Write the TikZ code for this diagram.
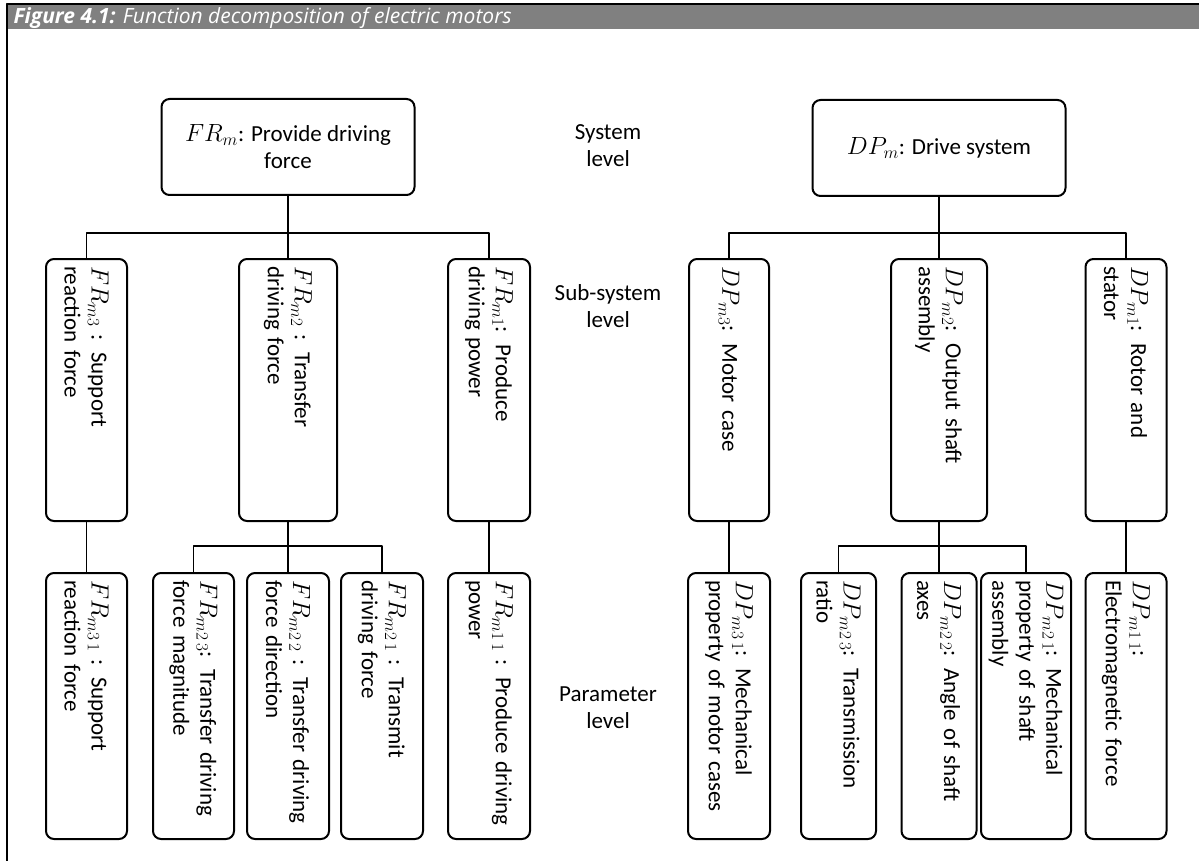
\documentclass[tikz,border=0pt]{standalone}
\usepackage{fontspec}
\setmainfont{Carlito}
\newfontfamily\titlefont{Open Sans}
\usetikzlibrary{positioning}
\definecolor{HeadGray}{HTML}{808080}

\tikzset{
  topbox/.style={draw,line width=2pt,rounded corners=8pt,minimum height=96pt,align=center,inner sep=6pt},
  vbox/.style 2 args={draw,line width=2pt,rounded corners=8pt,rotate=-90,anchor=west,
    minimum height=#1,text width=#2,align=left,inner xsep=7pt,inner ysep=2pt},
  lvl/.style={align=center},
  link/.style={line width=1.8pt}
}

\begin{document}
\begin{tikzpicture}[x=1pt,y=-1pt,font=\fontsize{23}{27}\selectfont,line cap=round,line join=round]
  \useasboundingbox (0,0) rectangle (1199,861);
  % frame and caption bar
  \fill[HeadGray] (7,4) rectangle (1199,29);
  \draw[line width=1.5pt] (7,4) -- (1199,4);
  \draw[line width=2pt] (7,4) -- (7,861);
  \node[anchor=base west,text=white,font=\titlefont\fontsize{21}{24}\selectfont\itshape] (title) at (10,24)
    {\textbf{Figure 4.1:} Function decomposition of electric motors};

  % system level
  \node[topbox,minimum width=253pt] (FRm) at (288,147) {$FR_m$: Provide driving\\force};
  \node[topbox,minimum width=253pt] (DPm) at (939,148) {$DP_m$: Drive system};

  % levels
  \node[lvl] (lsys) at (608,146) {System\\level};
  \node[lvl] (lsub) at (608,306) {Sub-system\\level};
  \node[lvl] (lpar) at (608,708) {Parameter\\level};

  % sub-system level
  \node[vbox={81pt}{248pt}] (FRmc) at (86.5,258) {$FR_{m3}$ : Support\\reaction force};
  \node[vbox={98pt}{248pt}] (FRmb) at (288,258) {$FR_{m2}$ : Transfer\\driving force};
  \node[vbox={82pt}{248pt}] (FRma) at (489,258) {$FR_{m1}$: Produce\\driving power};
  \node[vbox={80pt}{248pt}] (DPmc) at (729,258) {$DP_{m3}$: Motor case};
  \node[vbox={96pt}{248pt}] (DPmb) at (939,258) {$DP_{m2}$: Output shaft\\assembly};
  \node[vbox={81pt}{248pt}] (DPma) at (1126,258) {$DP_{m1}$: Rotor and\\stator};

  % parameter level
  \node[vbox={81pt}{252pt}] (FRmca) at (86.5,572) {$FR_{m3\,1}$ : Support\\reaction force};
  \node[vbox={81pt}{252pt}] (FRmbc) at (193.5,572) {$FR_{m2\,3}$: Transfer driving\\force magnitude};
  \node[vbox={82pt}{252pt}] (FRmbb) at (288,572) {$FR_{m2\,2}$ : Transfer driving\\force direction};
  \node[vbox={82pt}{252pt}] (FRmba) at (382,572) {$FR_{m2\,1}$ : Transmit\\driving force};
  \node[vbox={82pt}{252pt}] (FRmaa) at (489,572) {$FR_{m1\,1}$ : Produce driving\\power};
  \node[vbox={82pt}{252pt}] (DPmca) at (729,572) {$DP_{m3\,1}$: Mechanical\\property of motor cases};
  \node[vbox={75pt}{252pt}] (DPmbc) at (838.5,572) {$DP_{m2\,3}$: Transmission\\ratio};
  \node[vbox={75pt}{252pt}] (DPmbb) at (939,572) {$DP_{m2\,2}$: Angle of shaft\\axes};
  \node[vbox={90pt}{252pt}] (DPmba) at (1026,572) {$DP_{m2\,1}$: Mechanical\\property of shaft\\assembly};
  \node[vbox={81pt}{252pt}] (DPmaa) at (1126,572) {$DP_{m1\,1}$:\\Electromagnetic force};

  % connectors
  \foreach \c in {FRmc,FRmb,FRma}{\draw[link] (FRm.south) -- ++(0,37) -| (\c.west);}
  \foreach \c in {DPmc,DPmb,DPma}{\draw[link] (DPm.south) -- ++(0,36) -| (\c.west);}
  \foreach \c in {FRmbc,FRmbb,FRmba}{\draw[link] (FRmb.east) -- ++(0,24) -| (\c.west);}
  \foreach \c in {DPmbc,DPmbb,DPmba}{\draw[link] (DPmb.east) -- ++(0,24) -| (\c.west);}
  \draw[link] (FRmc.east) -- (FRmca.west);
  \draw[link] (FRma.east) -- (FRmaa.west);
  \draw[link] (DPmc.east) -- (DPmca.west);
  \draw[link] (DPma.east) -- (DPmaa.west);
\end{tikzpicture}
\end{document}
